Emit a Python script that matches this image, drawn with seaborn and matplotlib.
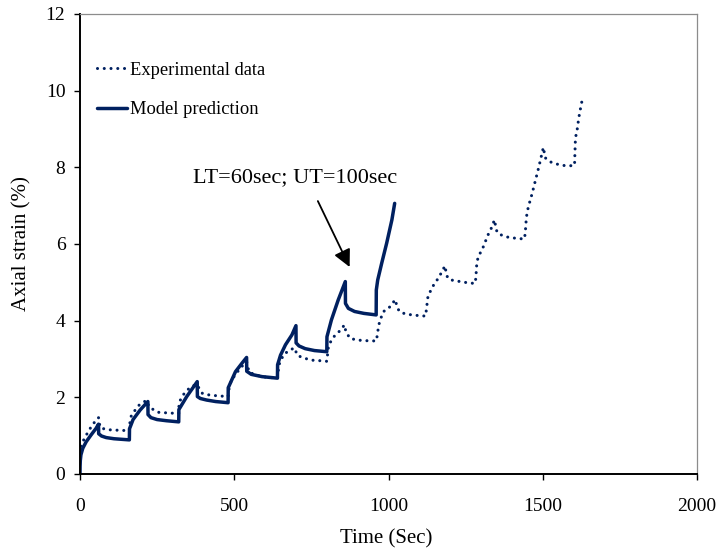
import matplotlib
matplotlib.use("Agg")
import matplotlib.pyplot as plt
import seaborn as sns
import pandas as pd

# Creep-recovery test: loading 60 s, unloading 100 s per cycle
exp_time = [0, 5, 14, 25, 36, 47, 60,
            65, 80, 100, 130, 160,
            162, 166, 179, 192, 215,
            225, 253, 290, 320,
            321, 328, 337, 348, 361, 378,
            397, 420, 445, 480,
            484, 491, 511, 524, 540,
            548, 570, 600, 640,
            645, 659, 675, 695,
            705, 728, 750, 772, 800,
            805, 815, 828, 846, 857,
            862, 875, 895, 918, 960,
            965, 967, 973, 984, 1000, 1011, 1022,
            1027, 1035, 1056, 1078, 1100, 1120,
            1123, 1128, 1139, 1149, 1161, 1172, 1183,
            1188, 1193, 1212, 1234, 1255, 1280,
            1283, 1286, 1290, 1300, 1310, 1317, 1326, 1337, 1343,
            1352, 1369, 1391, 1413, 1440,
            1443, 1447, 1453, 1465, 1476, 1487, 1502,
            1508, 1522, 1543, 1565, 1587, 1603,
            1604, 1606, 1611, 1617, 1625, 1630]
exp_strain = [0.55, 0.75, 0.93, 1.08, 1.23, 1.35, 1.47,
              1.22, 1.17, 1.15, 1.14, 1.13,
              1.36, 1.51, 1.67, 1.80, 1.92,
              1.74, 1.61, 1.59, 1.58,
              1.86, 1.97, 2.09, 2.19, 2.28, 2.34,
              2.10, 2.06, 2.04, 2.02,
              2.28, 2.45, 2.67, 2.80, 2.93,
              2.66, 2.58, 2.53, 2.50,
              2.85, 3.10, 3.21, 3.29,
              3.09, 3.02, 2.97, 2.96, 2.94,
              3.30, 3.50, 3.63, 3.76, 3.89,
              3.71, 3.54, 3.50, 3.48, 3.47,
              3.67, 3.84, 4.02, 4.24, 4.32, 4.43, 4.55,
              4.38, 4.24, 4.17, 4.15, 4.13, 4.12,
              4.30, 4.64, 4.82, 4.97, 5.10, 5.26, 5.43,
              5.20, 5.10, 5.04, 5.02, 4.99, 4.97,
              5.10, 5.47, 5.64, 5.81, 5.97, 6.13, 6.30, 6.47, 6.63,
              6.30, 6.22, 6.17, 6.15, 6.13,
              6.26, 6.70, 6.96, 7.30, 7.65, 8.00, 8.52,
              8.25, 8.15, 8.09, 8.05, 8.04, 8.05,
              8.30, 8.77, 8.95, 9.30, 9.65, 9.83]

model_time = [0, 0.3, 1, 3, 9, 20, 36, 52, 60,
              60.5, 70, 85, 110, 160,
              160.5, 172, 195, 220,
              220.5, 230, 250, 280, 320,
              320.5, 346, 380,
              380.5, 390, 410, 440, 480,
              480.5, 504, 525, 540,
              540.5, 555, 590, 640,
              640.5, 650, 666, 687, 700,
              700.5, 710, 730, 760, 800,
              800.5, 815, 837, 860,
              860.5, 870, 890, 920, 960,
              960.5, 965, 978, 994, 1011, 1020]
model_strain = [0, 0.20, 0.35, 0.50, 0.67, 0.84, 1.02, 1.19, 1.30,
                1.05, 0.99, 0.95, 0.92, 0.89,
                1.18, 1.42, 1.67, 1.89,
                1.55, 1.47, 1.42, 1.39, 1.36,
                1.68, 2.02, 2.41,
                2.02, 1.97, 1.93, 1.89, 1.86,
                2.25, 2.67, 2.89, 3.04,
                2.68, 2.60, 2.54, 2.50,
                2.85, 3.10, 3.37, 3.63, 3.87,
                3.42, 3.34, 3.27, 3.22, 3.19,
                3.58, 4.02, 4.54, 5.02,
                4.45, 4.32, 4.24, 4.19, 4.15,
                4.80, 5.06, 5.50, 6.02, 6.63, 7.06]

x_ticks = [0, 500, 1000, 1500, 2000]
y_ticks = [0, 2, 4, 6, 8, 10, 12]

navy = "#002060"

sns.set_theme(style="white")
plt.rcParams["font.family"] = ["Liberation Serif", "DejaVu Serif"]

exp_df = pd.DataFrame({"t": exp_time, "strain": exp_strain})
model_df = pd.DataFrame({"t": model_time, "strain": model_strain})

fig = plt.figure(figsize=(7.17, 5.52), dpi=100)
ax = fig.add_axes([80 / 717, 78 / 552, 617 / 717, 460 / 552])

sns.lineplot(data=exp_df, x="t", y="strain", ax=ax, estimator=None, sort=False,
             color=navy, linewidth=2.2, linestyle=(0, (0.01, 2.2)),
             dash_capstyle="round", label="Experimental data")
sns.lineplot(data=model_df, x="t", y="strain", ax=ax, estimator=None, sort=False,
             color=navy, linewidth=2.5, solid_joinstyle="round",
             label="Model prediction")

ax.set_xlim(0, 2000)
ax.set_ylim(0, 12)
ax.set_xticks(x_ticks)
ax.set_yticks(y_ticks)
ax.set_xticklabels([str(v) for v in x_ticks])
ax.set_yticklabels([str(v) for v in y_ticks])

for side in ("left", "bottom"):
    ax.spines[side].set_color("black")
    ax.spines[side].set_linewidth(1.4)
for side in ("top", "right"):
    ax.spines[side].set_visible(True)
    ax.spines[side].set_color("#8c8c8c")
    ax.spines[side].set_linewidth(0.9)

ax.tick_params(axis="both", which="major", direction="out", length=4.5,
               width=1.0, color="black", labelsize=14, labelcolor="black",
               left=True, bottom=True, top=False, right=False)
ax.tick_params(axis="y", pad=6)
ax.tick_params(axis="x", pad=13)

ax.set_xlabel("Time (Sec)", fontsize=15, color="black")
ax.set_ylabel("Axial strain (%)", fontsize=15, color="black")
ax.xaxis.set_label_coords(0.496, -0.12)
ax.yaxis.set_label_coords(-0.079, 0.5)

leg = ax.legend(loc="upper left", bbox_to_anchor=(0.027, 0.896), frameon=False,
                fontsize=13.3, handlelength=1.65, handletextpad=0.15,
                labelspacing=1.2, borderpad=0, borderaxespad=0)
for txt in leg.get_texts():
    txt.set_color("black")

# Annotation for the loading / unloading durations
ax.text(697, 7.72, "LT=60sec; UT=100sec", fontsize=16, color="black",
        ha="center", va="center")
ax.annotate("", xy=(874, 5.40), xytext=(771, 7.12),
            arrowprops=dict(arrowstyle="-|>", color="black", lw=1.3,
                            mutation_scale=26, shrinkA=0, shrinkB=0))

fig.savefig("out.png", dpi=100)
